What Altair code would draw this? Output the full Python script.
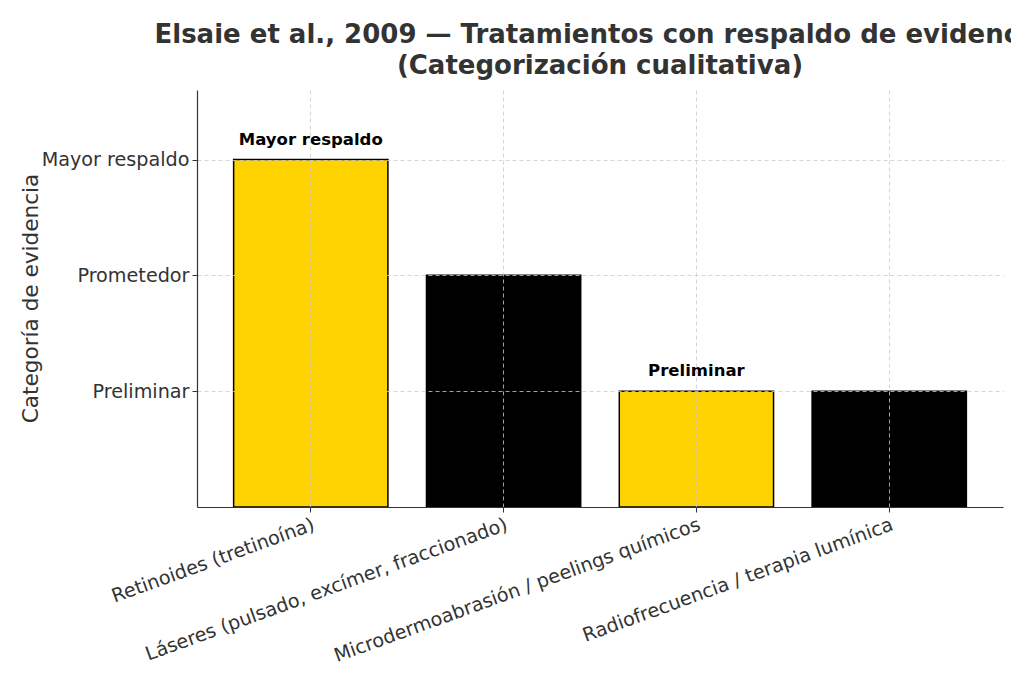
import altair as alt
import pandas as pd

treatments = [
    "Retinoides (tretinoína)",
    "Láseres (pulsado, excímer, fraccionado)",
    "Microdermoabrasión / peelings químicos",
    "Radiofrecuencia / terapia lumínica",
]
evidence_level = [3, 2, 1, 1]
bar_labels = ["Mayor respaldo", "", "Preliminar", ""]
bar_colors = ["#FFD300", "#000000", "#FFD300", "#000000"]
tick_values = [1, 2, 3]
tick_names = ["Preliminar", "Prometedor", "Mayor respaldo"]

df = pd.DataFrame({
    "tratamiento": treatments,
    "nivel": evidence_level,
    "etiqueta": bar_labels,
    "color": bar_colors,
})

label_expr = (
    "datum.value == 1 ? '" + tick_names[0] + "' : datum.value == 2 ? '"
    + tick_names[1] + "' : datum.value == 3 ? '" + tick_names[2] + "' : ''"
)

FONT = "DejaVu Sans"

x_enc = alt.X(
    "tratamiento:N",
    sort=treatments,
    scale=alt.Scale(paddingInner=0.2, paddingOuter=0.19),
    axis=alt.Axis(
        title=None,
        labelAngle=-20,
        labelAlign="right",
        labelBaseline="top",
        labelFontSize=19.2,
        labelFont=FONT,
        labelColor="#333333",
        labelPadding=3,
        labelLimit=600,
        bandPosition=0.5,
        grid=True,
        gridDash=[4, 3],
        gridColor="#cccccc",
        gridWidth=0.8,
        tickColor="#333333",
        tickSize=5,
        domainColor="#333333",
        domainWidth=1.2,
        zindex=1,
    ),
)

y_enc = alt.Y(
    "nivel:Q",
    scale=alt.Scale(domain=[0, 3.6], nice=False),
    axis=alt.Axis(
        title="Categoría de evidencia",
        titleFont=FONT,
        titleFontSize=21.6,
        titleFontWeight="normal",
        titleColor="#333333",
        titleX=-155,
        titleY=208,
        values=tick_values,
        labelExpr=label_expr,
        labelFontSize=19.2,
        labelFont=FONT,
        labelColor="#333333",
        labelPadding=3,
        grid=True,
        gridDash=[4, 3],
        gridColor="#cccccc",
        gridWidth=0.8,
        tickColor="#333333",
        tickSize=5,
        domainColor="#333333",
        domainWidth=1.2,
        zindex=1,
    ),
)

bars = alt.Chart(df).mark_bar(stroke="#000000", strokeWidth=1.5).encode(
    x=x_enc,
    y=y_enc,
    color=alt.Color("color:N", scale=None, legend=None),
)

texts = alt.Chart(df).transform_filter("datum.etiqueta != ''").mark_text(
    font=FONT, fontSize=16.5, fontWeight="bold", color="#000000",
    baseline="alphabetic", dy=-15,
).encode(
    x=alt.X("tratamiento:N", sort=treatments),
    y=alt.Y("nivel:Q"),
    text="etiqueta:N",
)

chart = alt.layer(bars, texts).properties(
    width=806,
    height=417,
    title=alt.TitleParams(
        text=["Elsaie et al., 2009 — Tratamientos con respaldo de evidencia",
              "(Categorización cualitativa)"],
        font=FONT,
        fontSize=26,
        fontWeight="bold",
        color="#333333",
        anchor="middle",
        lineHeight=31.5,
        offset=11,
    ),
    autosize=alt.AutoSizeParams(type="none"),
    padding={"left": 189, "top": 82, "right": 8, "bottom": 160},
).configure_view(stroke=None)

chart.save("out.html", embed_options={"renderer": "svg", "actions": False})
